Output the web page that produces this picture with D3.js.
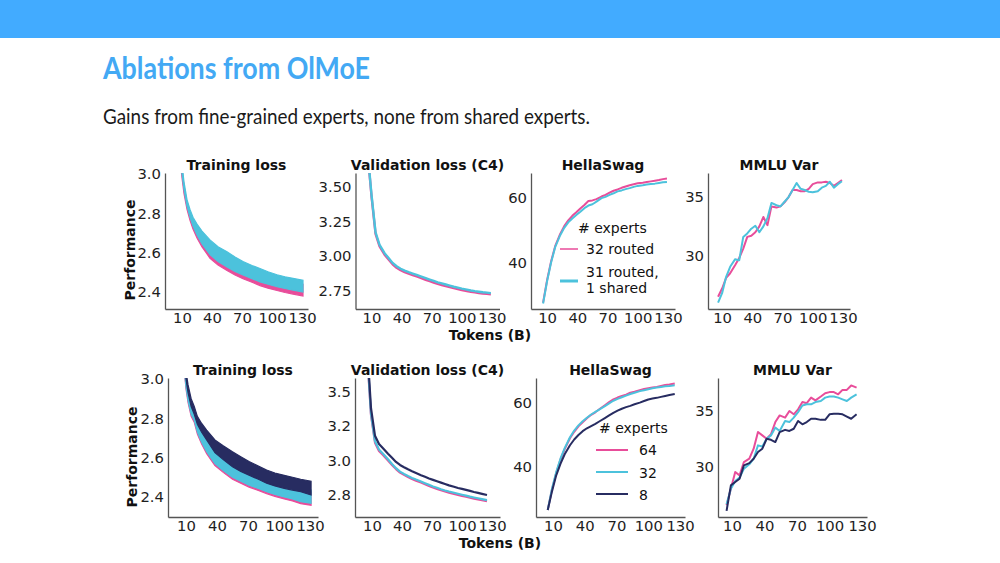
<!DOCTYPE html>
<html>
<head>
<meta charset="utf-8">
<script src="https://cdn.jsdelivr.net/npm/d3@7"></script>
<style>
  body { margin: 0; background: #fff; }
  svg { display: block; }
</style>
</head>
<body>
<div id="slide"></div>
<script>
// ---- data ----
// eval checkpoints (tokens, B)
const tokA = [6,10,14,18,23,27,31,35,39,43,47,51,55,59,64,68,72,76,80,84,88,92,96,100,105,109,113,117,121,125,129];
const tokB = [5,9,13,17,21,26,30,34,38,42,46,50,54,59,63,67,71,75,79,83,87,92,96,100,104,108,112,116,120,125];
// training loss is a noisy band: low / high envelope
const trainTok = [8,10,12,15,18,21,25,30,38,46,55,63,71,80,88,96,105,113,121,131];

// top row: 32 routed (pink) vs 31 routed + 1 shared (cyan)
const trainPinkHiA = [3.13,3.03,2.94,2.85,2.80,2.76,2.72,2.685,2.64,2.605,2.58,2.555,2.535,2.515,2.50,2.485,2.47,2.46,2.45,2.44];
const trainPinkLoA = [3.08,2.98,2.90,2.82,2.765,2.72,2.675,2.63,2.572,2.537,2.51,2.487,2.468,2.45,2.433,2.42,2.408,2.398,2.39,2.38];
const trainCyanHiA = [3.15,3.05,2.96,2.87,2.82,2.78,2.745,2.71,2.665,2.63,2.605,2.578,2.555,2.535,2.52,2.503,2.488,2.478,2.47,2.46];
const trainCyanLoA = [3.10,3.00,2.92,2.835,2.78,2.735,2.69,2.645,2.59,2.555,2.528,2.505,2.487,2.468,2.452,2.44,2.427,2.418,2.41,2.40];

const valPinkA = [3.75,3.43,3.16,3.07,3.01,2.975,2.94,2.915,2.897,2.883,2.872,2.862,2.852,2.842,2.828,2.818,2.808,2.798,2.790,2.782,2.775,2.768,2.761,2.754,2.747,2.742,2.737,2.733,2.729,2.726,2.723];
const valCyanA = [3.76,3.44,3.17,3.08,3.02,2.985,2.95,2.926,2.908,2.894,2.883,2.873,2.863,2.853,2.840,2.830,2.820,2.810,2.802,2.794,2.786,2.778,2.771,2.764,2.757,2.751,2.746,2.742,2.738,2.735,2.732];

const hellaPinkA = [27.5,34.5,40.3,45.0,48.8,51.2,53.0,54.4,55.5,56.7,57.8,59.0,59.2,59.6,60.4,60.9,61.6,62.2,62.6,63.1,63.5,63.9,64.2,64.5,64.7,64.9,65.1,65.3,65.5,65.8,66.0];
const hellaCyanA = [27.2,34.2,40.0,44.7,48.4,50.7,52.4,53.6,54.7,55.7,56.8,57.6,58.0,58.8,59.9,60.3,60.9,61.4,62.0,62.3,62.7,63.0,63.4,63.7,63.9,64.1,64.3,64.4,64.6,64.8,64.9];

const mmluPinkA = [26.5,27.2,28.1,28.5,29.2,29.8,30.6,31.6,31.7,32.0,32.5,33.3,32.6,34.2,34.1,34.2,34.55,35.0,35.6,35.6,35.5,35.5,35.7,36.1,36.25,36.25,36.3,36.2,35.95,36.2,36.45];
const mmluCyanA = [26.0,26.8,28.2,29.05,29.7,29.6,31.6,31.9,32.3,32.55,32.0,32.5,33.2,34.5,34.3,34.2,34.6,35.0,35.6,36.2,35.7,35.6,35.45,35.4,35.5,35.8,35.95,36.3,35.8,36.1,36.35];

// bottom row: 64 (pink), 32 (cyan), 8 (navy) experts
const trainPinkHiB = [3.11,3.00,2.93,2.86,2.82,2.77,2.73,2.69,2.63,2.60,2.565,2.54,2.52,2.50,2.48,2.466,2.455,2.445,2.437,2.425];
const trainPinkLoB = [3.06,2.95,2.88,2.81,2.78,2.72,2.67,2.62,2.56,2.525,2.49,2.47,2.45,2.433,2.417,2.403,2.39,2.38,2.366,2.358];
const trainCyanHiB = [3.12,3.01,2.94,2.87,2.83,2.78,2.74,2.70,2.64,2.61,2.575,2.55,2.53,2.51,2.49,2.476,2.465,2.455,2.447,2.435];
const trainCyanLoB = [3.07,2.96,2.89,2.82,2.79,2.73,2.68,2.63,2.57,2.535,2.50,2.48,2.46,2.443,2.427,2.413,2.40,2.39,2.376,2.368];
const trainNavyHiB = [3.15,3.04,2.97,2.90,2.86,2.81,2.775,2.74,2.69,2.66,2.63,2.605,2.58,2.557,2.537,2.522,2.51,2.50,2.49,2.48];
const trainNavyLoB = [3.10,3.00,2.93,2.86,2.82,2.77,2.73,2.69,2.625,2.59,2.554,2.53,2.51,2.49,2.47,2.456,2.444,2.435,2.427,2.41];

const valPinkB = [3.79,3.33,3.13,3.07,3.04,3.00,2.968,2.938,2.913,2.896,2.88,2.866,2.854,2.84,2.828,2.816,2.804,2.794,2.784,2.775,2.767,2.758,2.751,2.744,2.737,2.730,2.724,2.718,2.712,2.705];
const valCyanB = [3.80,3.34,3.14,3.08,3.05,3.01,2.975,2.945,2.92,2.903,2.888,2.874,2.862,2.848,2.836,2.824,2.812,2.802,2.792,2.783,2.775,2.766,2.759,2.752,2.745,2.738,2.732,2.726,2.72,2.713];
const valNavyB = [3.85,3.38,3.18,3.12,3.09,3.05,3.02,2.99,2.968,2.952,2.937,2.923,2.91,2.894,2.882,2.87,2.86,2.85,2.84,2.83,2.82,2.81,2.801,2.794,2.787,2.78,2.772,2.765,2.758,2.75];

const hellaPinkB = [26.6,33.0,38.1,42.3,45.6,49.0,51.0,52.7,54.0,55.2,56.3,57.1,58.1,59.3,60.3,61.1,61.7,62.2,62.6,63.2,63.5,64.0,64.4,64.6,64.8,65.0,65.3,65.6,65.8,66.1];
const hellaCyanB = [26.6,33.2,38.4,42.6,45.9,49.3,51.4,53.0,54.3,55.4,56.4,57.2,58.0,59.0,59.9,60.7,61.3,61.8,62.3,62.8,63.2,63.7,64.0,64.3,64.6,64.8,65.0,65.2,65.3,65.5];
const hellaNavyB = [26.6,32.4,37.4,41.0,44.0,46.8,48.6,50.0,51.2,52.1,52.8,53.5,54.3,55.3,56.1,56.9,57.6,58.2,58.7,59.1,59.6,60.1,60.6,61.1,61.4,61.6,61.9,62.2,62.5,62.8];

const mmluPinkB = [26.5,28.0,29.5,29.2,30.4,30.7,31.6,33.1,32.8,32.5,32.9,34.0,34.6,34.4,35.0,34.7,35.15,35.8,35.7,36.2,35.95,36.3,36.6,36.7,36.7,36.5,36.9,36.9,37.3,37.1];
const mmluCyanB = [26.6,28.0,28.7,29.0,29.8,30.2,30.7,31.9,31.8,32.5,32.8,33.5,33.2,34.1,34.0,34.4,34.9,35.5,35.6,35.6,35.8,35.9,36.2,36.3,36.3,36.2,36.05,35.9,36.2,36.5];
const mmluNavyB = [26.0,28.3,28.6,28.9,30.1,30.3,30.7,31.3,31.6,32.5,32.4,32.2,33.1,33.3,33.2,33.4,34.1,33.8,34.0,34.3,34.3,34.2,34.2,34.7,34.75,34.75,34.7,34.5,34.3,34.7];

// ticks
const xTicks = [10, 40, 70, 100, 130];
const trainTicks = [2.4, 2.6, 2.8, 3.0];
const trainLabels = ["2.4", "2.6", "2.8", "3.0"];
const valTicks = [2.75, 3.0, 3.25, 3.5];
const valLabelsA = ["2.75", "3.00", "3.25", "3.50"];
const valLabelsB = ["2.8", "3.0", "3.2", "3.5"];
const hellaTicks = [40, 60];
const mmluTicks = [30, 35];

const titles = ["Training loss", "Validation loss (C4)", "HellaSwag", "MMLU Var"];

const PINK = "#e84d9a", CYAN = "#4cc2dc", NAVY = "#272c61";

// ---- drawing ----
const svg = d3.select("#slide").append("svg")
  .attr("width", 1000).attr("height", 563);

svg.append("rect").attr("x", 0).attr("y", 0).attr("width", 1000).attr("height", 563).attr("fill", "#fff");
svg.append("rect").attr("x", 0).attr("y", 0).attr("width", 1000).attr("height", 38).attr("fill", "#42abff");

svg.append("text")
  .attr("x", 103).attr("y", 79)
  .attr("font-family", "Lato, 'Open Sans', sans-serif")
  .attr("font-weight", 700)
  .attr("font-size", 30)
  .attr("textLength", 267).attr("lengthAdjust", "spacingAndGlyphs")
  .attr("fill", "#43a9f4")
  .text("Ablations from OlMoE");

svg.append("text")
  .attr("x", 103).attr("y", 124)
  .attr("font-family", "Lato, 'Open Sans', sans-serif")
  .attr("font-size", 21)
  .attr("textLength", 487).attr("lengthAdjust", "spacingAndGlyphs")
  .attr("fill", "#1a1a1a")
  .text("Gains from fine-grained experts, none from shared experts.");

function zip(xs, ys) { return xs.map((x, i) => [x, ys[i]]); }
function zip3(xs, lo, hi) { return xs.map((x, i) => [x, lo[i], hi[i]]); }

const TICKFONT = "'DejaVu Sans', sans-serif";
let clipId = 0;

function makePanel(p) {
  const g = svg.append("g");
  const x = d3.scaleLinear().domain(p.xd).range([p.x, p.x + p.w]);
  const y = d3.scaleLinear().domain(p.yd).range([p.y + p.h, p.y]);

  const cid = "clip" + (clipId++);
  svg.append("clipPath").attr("id", cid).append("rect")
    .attr("x", p.x).attr("y", p.y).attr("width", p.w).attr("height", p.h);
  const plot = g.append("g").attr("clip-path", "url(#" + cid + ")");

  (p.bands || []).forEach(b => {
    const area = d3.area().x(d => x(d[0])).y0(d => y(d[1])).y1(d => y(d[2]));
    plot.append("path").datum(zip3(b.x, b.lo, b.hi))
      .attr("d", area).attr("fill", b.color)
      .attr("stroke", b.color).attr("stroke-width", 1.2);
  });
  (p.lines || []).forEach(l => {
    const line = d3.line().x(d => x(d[0])).y(d => y(d[1]));
    plot.append("path").datum(zip(l.x, l.y))
      .attr("d", line).attr("fill", "none")
      .attr("stroke", l.color).attr("stroke-width", l.w || 2)
      .attr("stroke-linejoin", "round");
  });

  const xa = g.append("g").attr("transform", `translate(0,${p.y + p.h})`)
    .call(d3.axisBottom(x).tickValues(xTicks).tickSize(0).tickSizeOuter(0).tickPadding(3).tickFormat(d3.format("d")));
  const ya = g.append("g").attr("transform", `translate(${p.x},0)`)
    .call(d3.axisLeft(y).tickValues(p.yt).tickSize(0).tickSizeOuter(0).tickPadding(4)
      .tickFormat((d, i) => p.yl ? p.yl[i] : d));
  [xa, ya].forEach(a => {
    a.select(".domain").attr("stroke", "#555").attr("stroke-width", 1.3);
    a.selectAll("text").attr("font-family", TICKFONT).attr("font-size", 14.8).attr("fill", "#1e1e1e");
  });

  g.append("text")
    .attr("x", p.x + p.w / 2).attr("y", p.y - 3)
    .attr("text-anchor", "middle")
    .attr("font-family", TICKFONT).attr("font-weight", "bold").attr("font-size", 14)
    .attr("fill", "#111")
    .text(p.title);
  return {x, y, g};
}

// top row
const topY = 173, topH = 136;
makePanel({x: 165, w: 143, y: topY, h: topH, xd: [-7, 136], yd: [2.314, 3.005],
  yt: trainTicks, yl: trainLabels, title: titles[0],
  bands: [
    {x: trainTok, lo: trainPinkLoA, hi: trainPinkHiA, color: PINK},
    {x: trainTok, lo: trainCyanLoA, hi: trainCyanHiA, color: CYAN}
  ]});
makePanel({x: 355.5, w: 144, y: topY, h: topH, xd: [-6, 137.6], yd: [2.617, 3.60],
  yt: valTicks, yl: valLabelsA, title: titles[1],
  lines: [
    {x: tokA, y: valPinkA, color: PINK, w: 2.4},
    {x: tokA, y: valCyanA, color: CYAN, w: 2.4}
  ]});
makePanel({x: 531, w: 144, y: topY, h: topH, xd: [-6, 137], yd: [25.5, 67.7],
  yt: hellaTicks, title: titles[2],
  lines: [
    {x: tokA, y: hellaPinkA, color: PINK},
    {x: tokA, y: hellaCyanA, color: CYAN}
  ]});
makePanel({x: 708, w: 142, y: topY, h: topH, xd: [-4, 137], yd: [25.45, 37.05],
  yt: mmluTicks, title: titles[3],
  lines: [
    {x: tokA, y: mmluPinkA, color: PINK},
    {x: tokA, y: mmluCyanA, color: CYAN}
  ]});

// bottom row
const botY = 378, botH = 139;
makePanel({x: 168, w: 150, y: botY, h: botH, xd: [-7.4, 137.7], yd: [2.298, 3.005],
  yt: trainTicks, yl: trainLabels, title: titles[0],
  bands: [
    {x: trainTok, lo: trainPinkLoB, hi: trainPinkHiB, color: PINK},
    {x: trainTok, lo: trainCyanLoB, hi: trainCyanHiB, color: CYAN},
    {x: trainTok, lo: trainNavyLoB, hi: trainNavyHiB, color: NAVY}
  ]});
makePanel({x: 355, w: 145, y: botY, h: botH, xd: [-7, 138], yd: [2.59, 3.60],
  yt: valTicks, yl: valLabelsB, title: titles[1],
  lines: [
    {x: tokB, y: valPinkB, color: PINK, w: 2.2},
    {x: tokB, y: valCyanB, color: CYAN, w: 2.2},
    {x: tokB, y: valNavyB, color: NAVY, w: 2.2}
  ]});
makePanel({x: 536, w: 149, y: botY, h: botH, xd: [-6.1, 134.7], yd: [24.4, 67.8],
  yt: hellaTicks, title: titles[2],
  lines: [
    {x: tokB, y: hellaPinkB, color: PINK},
    {x: tokB, y: hellaCyanB, color: CYAN},
    {x: tokB, y: hellaNavyB, color: NAVY}
  ]});
makePanel({x: 718, w: 149, y: botY, h: botH, xd: [-2.9, 134.6], yd: [25.45, 37.97],
  yt: mmluTicks, title: titles[3],
  lines: [
    {x: tokB, y: mmluPinkB, color: PINK},
    {x: tokB, y: mmluCyanB, color: CYAN},
    {x: tokB, y: mmluNavyB, color: NAVY}
  ]});

// shared axis labels
function boldLabel(txt, x, y, rot) {
  svg.append("text")
    .attr("transform", `translate(${x},${y})` + (rot ? " rotate(-90)" : ""))
    .attr("text-anchor", "middle")
    .attr("font-family", TICKFONT).attr("font-weight", "bold").attr("font-size", 14)
    .attr("fill", "#111")
    .text(txt);
}
boldLabel("Performance", 135, 250, true);
boldLabel("Performance", 137, 457, true);
boldLabel("Tokens (B)", 490, 340, false);
boldLabel("Tokens (B)", 500, 548, false);

// legends
function legend(title, tx, ty, items) {
  const lg = svg.append("g").attr("font-family", TICKFONT).attr("font-size", 14).attr("fill", "#111");
  lg.append("text").attr("x", tx).attr("y", ty).text(title);
  items.forEach(it => {
    lg.append("line").attr("x1", it.x1).attr("x2", it.x2).attr("y1", it.y).attr("y2", it.y)
      .attr("stroke", it.color).attr("stroke-width", it.w);
    it.text.forEach((t, k) => {
      lg.append("text").attr("x", it.tx).attr("y", it.ty + k * 16).text(t);
    });
  });
}
legend("# experts", 578, 233, [
  {x1: 560, x2: 578, y: 249, color: PINK, w: 1.5, tx: 586, ty: 254, text: ["32 routed"]},
  {x1: 560, x2: 578, y: 281, color: CYAN, w: 3, tx: 586, ty: 277, text: ["31 routed,", "1 shared"]}
]);
legend("# experts", 599, 433, [
  {x1: 596, x2: 628, y: 450, color: PINK, w: 2, tx: 639, ty: 455, text: ["64"]},
  {x1: 596, x2: 628, y: 472, color: CYAN, w: 2, tx: 639, ty: 477.5, text: ["32"]},
  {x1: 596, x2: 628, y: 494, color: NAVY, w: 2, tx: 639, ty: 499.5, text: ["8"]}
]);
</script>
</body>
</html>
